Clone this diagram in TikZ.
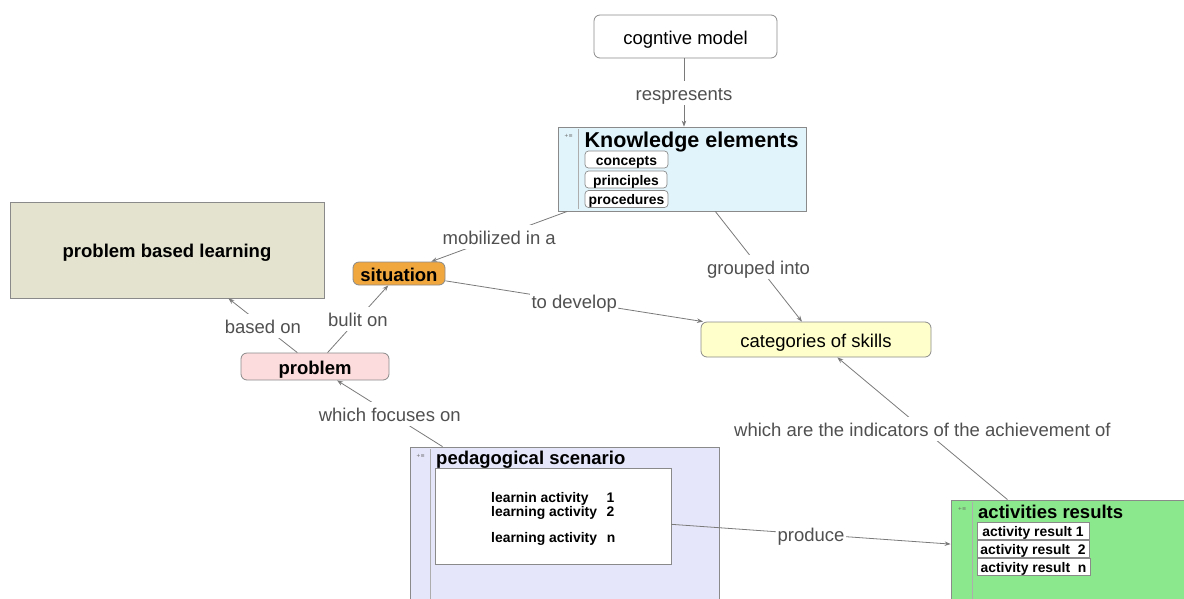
\documentclass[tikz,border=0pt]{standalone}
\usepackage{fontspec}
\setmainfont{Liberation Sans}
\newfontfamily\symfont{DejaVu Sans}
\usetikzlibrary{arrows.meta}
\definecolor{keblue}{HTML}{E1F4FB}
\definecolor{sitorange}{HTML}{F0A73E}
\definecolor{pblbeige}{HTML}{E3E3CF}
\definecolor{probpink}{HTML}{FCDCDC}
\definecolor{catyellow}{HTML}{FFFFCC}
\definecolor{pedlav}{HTML}{E6E6FA}
\definecolor{argreen}{HTML}{8CE88C}
\definecolor{edgegray}{HTML}{7A7A7A}
\definecolor{labelgray}{HTML}{505050}
\definecolor{bordergray}{HTML}{8A8A8A}
\tikzset{
  box/.style={draw=bordergray, line width=0.8pt, inner sep=0pt, align=center},
  rbox/.style={box, rounded corners=6pt},
  vcbig/.style={text height=18pt, text depth=3pt},
  vcsmall/.style={text height=12pt, text depth=1pt},
  bigfont/.style={font=\fontsize{18.5}{20}\selectfont, vcbig},
  boldbig/.style={font=\fontsize{18.5}{20}\selectfont\bfseries, vcbig},
  smallbold/.style={font=\fontsize{13.9}{15}\selectfont\bfseries, vcsmall},
  subbox/.style={draw=bordergray, line width=0.7pt, fill=white, rounded corners=3.5pt, minimum height=17pt, inner sep=0pt, smallbold},
  arbox/.style={draw=bordergray, line width=0.7pt, fill=white, minimum height=17pt, inner sep=0pt, smallbold},
  conn/.style={draw=edgegray, line width=0.8pt, -{Stealth[length=6pt,width=4.5pt]}},
  lbl/.style={fill=white, inner sep=1.5pt, text=labelgray, font=\fontsize{18.5}{20}\selectfont, vcbig},
  strip/.style={draw=bordergray!70, line width=0.8pt},
  icon/.style={text=gray!80!black, font=\symfont\fontsize{5}{5}\selectfont, inner sep=0pt}
}
\begin{document}
\begin{tikzpicture}[x=1pt,y=-1pt]
\useasboundingbox (0,0) rectangle (1184,598);

% nodes
\node[rbox, fill=white, minimum width=183pt, minimum height=43pt, bigfont] (cog) at (685.5,36.5) {cogntive model};

\node[box, fill=keblue, minimum width=248pt, minimum height=84pt] (ke) at (682,169) {};
\draw[strip] (578,129) coordinate (kes1) -- (578,209) coordinate (kes2);
\node[icon] (keicon) at (568.5,136) {+≡};
\node[anchor=west, inner sep=0pt, font=\fontsize{21.5}{23}\selectfont\bfseries, vcbig] (ketitle) at (584.5,140) {Knowledge elements};
\node[subbox, minimum width=83pt] (concepts) at (626.5,159.5) {concepts};
\node[subbox, minimum width=82pt] (principles) at (626,179.5) {principles};
\node[subbox, minimum width=83pt] (procedures) at (626.5,199) {procedures};

\node[rbox, fill=sitorange, minimum width=92pt, minimum height=23pt, boldbig] (sit) at (399,273.5) {situation};
\node[box, fill=pblbeige, minimum width=314pt, minimum height=96pt, boldbig] (pbl) at (167,250) {problem based learning};
\node[rbox, fill=probpink, minimum width=148pt, minimum height=27pt, boldbig] (prob) at (315,366.5) {problem};
\node[rbox, fill=catyellow, minimum width=230pt, minimum height=35pt, bigfont] (cat) at (816,339.5) {categories of skills};

\node[box, fill=pedlav, minimum width=309pt, minimum height=153pt] (ped) at (564.5,523.5) {};
\draw[strip] (430,449) coordinate (peds1) -- (430,600) coordinate (peds2);
\node[icon] (pedicon) at (420.5,456) {+≡};
\node[anchor=west, inner sep=0pt, boldbig] (pedtitle) at (436,457) {pedagogical scenario};
\node[box, fill=white, minimum width=236pt, minimum height=96pt] (inner) at (553,516) {};
\node[anchor=west, inner sep=0pt, smallbold] (la1) at (491,497) {learnin activity};
\node[inner sep=0pt, smallbold] (la1n) at (610.5,497) {1};
\node[anchor=west, inner sep=0pt, smallbold] (la2) at (491,511) {learning activity};
\node[inner sep=0pt, smallbold] (la2n) at (610.5,511) {2};
\node[anchor=west, inner sep=0pt, smallbold] (la3) at (491,537) {learning activity};
\node[inner sep=0pt, smallbold] (la3n) at (611,537) {n};

\node[box, fill=argreen, minimum width=239pt, minimum height=105pt] (ar) at (1070.5,552.5) {};
\draw[strip] (972,502) coordinate (ars1) -- (972,600) coordinate (ars2);
\node[icon] (aricon) at (962,509) {+≡};
\node[anchor=west, inner sep=0pt, boldbig] (artitle) at (978,511) {activities results};
\node[arbox, minimum width=112pt] (ar1) at (1033,530.5) {activity result 1};
\node[arbox, minimum width=112pt] (ar2) at (1033,548.5) {activity result\ \ 2};
\node[arbox, minimum width=113pt] (ar3) at (1033.5,566.5) {activity result\ \ n};

% connectors
\draw[conn] (cog.south -| 684,0) -- (ke.north -| 684,0) node[lbl, midway] (l1) {respresents};
\draw[conn] (ke) -- (sit) node[lbl, midway] (l2) {mobilized in a};
\draw[conn] (ke) -- (cat) node[lbl, midway] (l3) {grouped into};
\draw[conn] (sit) -- (cat) node[lbl, midway] (l4) {to develop};
\draw[conn] (prob) -- (pbl) node[lbl, midway] (l5) {based on};
\draw[conn] (prob) -- (sit) node[lbl, midway] (l6) {bulit on};
\draw[conn] (ped) -- (prob) node[lbl, midway] (l7) {which focuses on};
\draw[conn] (inner) -- (ar) node[lbl, midway] (l8) {produce};
\draw[conn] (ar) -- (cat) node[lbl, midway] (l9) {which are the indicators of the achievement of};
\end{tikzpicture}
\end{document}
